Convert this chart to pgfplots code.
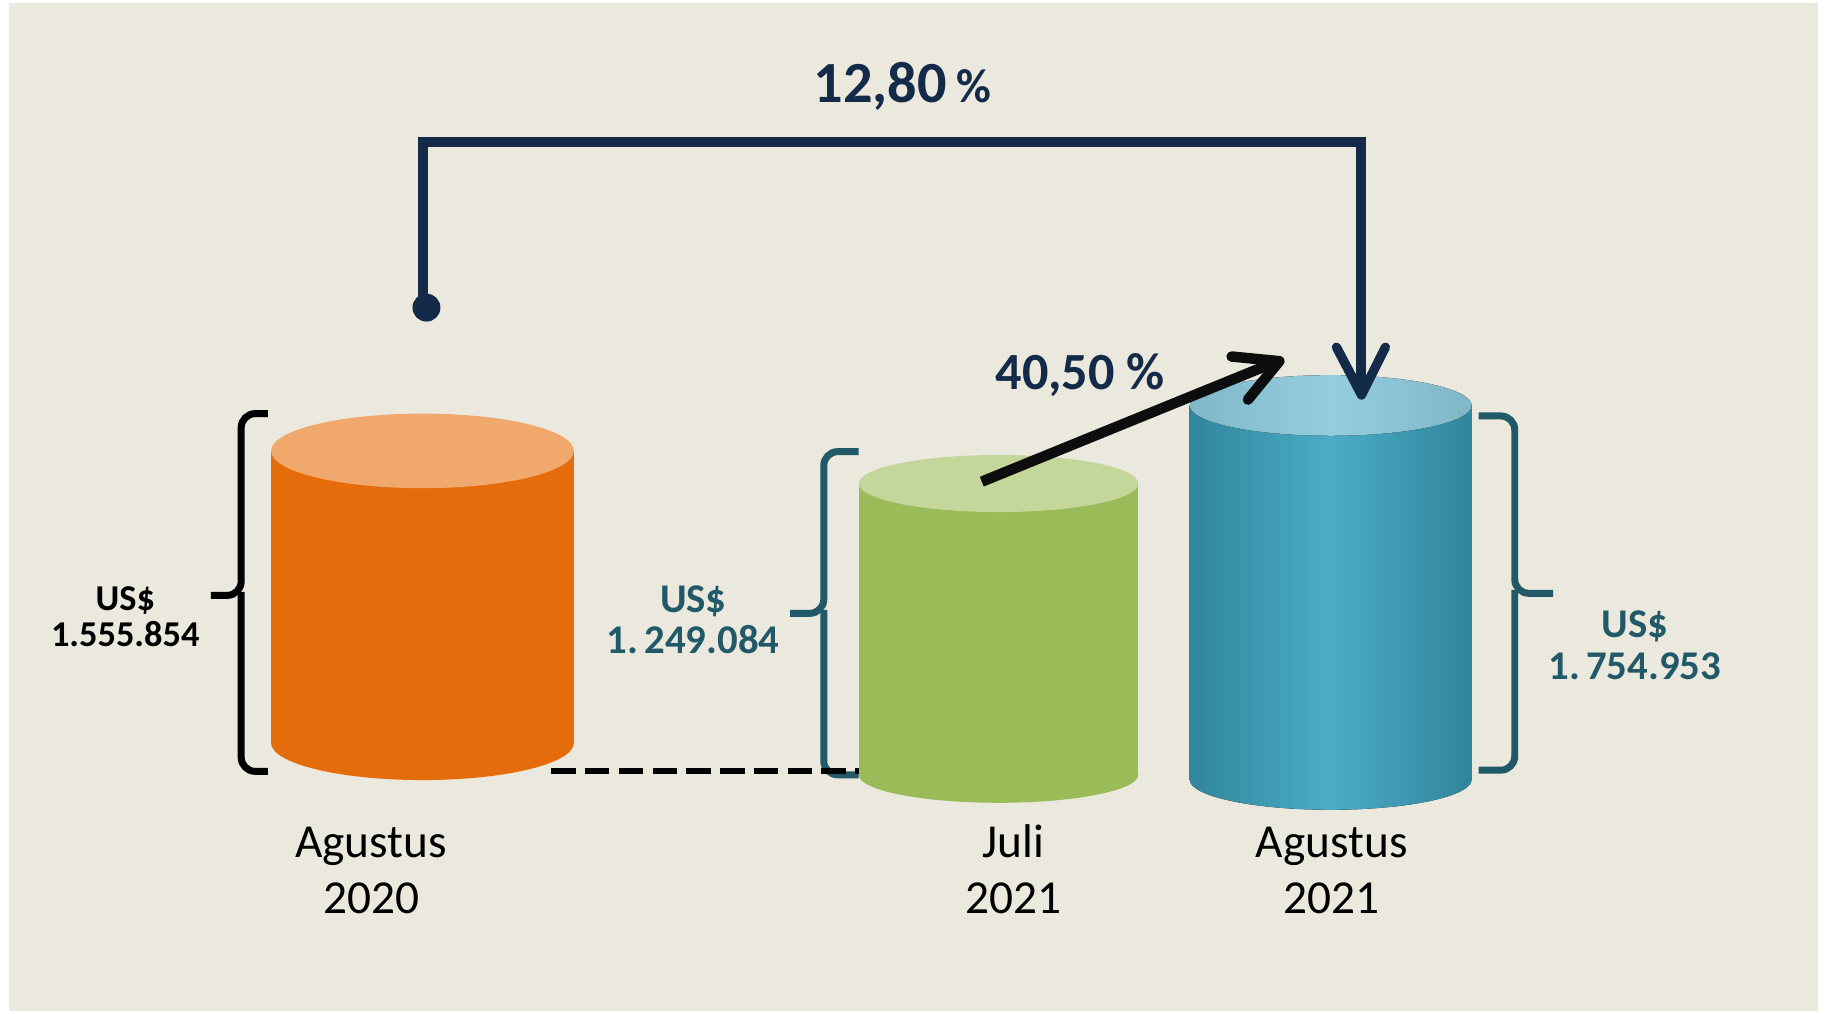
\documentclass[border=0pt]{standalone}
\usepackage{pgfplots}
\pgfplotsset{compat=1.18}
\usepackage{fontspec}
\setmainfont{Carlito}
\definecolor{bg}{HTML}{EBE8DE}
\definecolor{navy}{HTML}{132A48}
\definecolor{tealc}{HTML}{215968}
\definecolor{orS}{HTML}{E46C0A}
\definecolor{orT}{HTML}{F0A86C}
\definecolor{grS}{HTML}{9BBB59}
\definecolor{grT}{HTML}{C4D79B}
\definecolor{blD}{HTML}{31859C}
\definecolor{blL}{HTML}{4BACC6}
\definecolor{btD}{HTML}{80B7C8}
\definecolor{btL}{HTML}{94CEDE}
\begin{document}
\begin{tikzpicture}
\begin{axis}[scale only axis, width=784pt, height=435pt,
  xmin=0, xmax=1568, ymin=0, ymax=870, hide axis, clip=false]
% background
\addplot[fill=white, draw=none] coordinates {(0,0) (1568,0) (1568,870) (0,870)} -- cycle;
\addplot[fill=bg, draw=none] coordinates {(8,2) (1560,2) (1560,867) (8,867)} -- cycle;
% brackets
\draw[line width=3pt, rounded corners=6pt] (axis cs:230,515) -- (axis cs:207,515) -- (axis cs:207,359) -- (axis cs:181,359);
\draw[line width=3pt, rounded corners=6pt] (axis cs:207,362) -- (axis cs:207,208) -- (axis cs:230,208);
\draw[tealc, line width=3pt, rounded corners=6pt] (axis cs:737,482.4) -- (axis cs:707,482.4) -- (axis cs:707,343.6) -- (axis cs:678,343.6);
\draw[tealc, line width=3pt, rounded corners=6pt] (axis cs:707,346.6) -- (axis cs:707,205) -- (axis cs:737,205);
\draw[tealc, line width=3pt, rounded corners=6pt] (axis cs:1269,513) -- (axis cs:1300,513) -- (axis cs:1300,360.8) -- (axis cs:1333,360.8);
\draw[tealc, line width=3pt, rounded corners=6pt] (axis cs:1300,363.8) -- (axis cs:1300,209) -- (axis cs:1269,209);
% dashed base line
\addplot[black, line width=2.5pt, dash pattern=on 10.5pt off 4pt] coordinates {(473,208) (737,208)};
% orange cylinder
\fill[orS] (axis cs:362.6,232.5) ellipse[x radius=130, y radius=32];
\addplot[fill=orS, draw=none] coordinates {(232.6,232.5) (492.6,232.5) (492.6,483) (232.6,483)} -- cycle;
\fill[orT] (axis cs:362.6,483) ellipse[x radius=130, y radius=32];
% green cylinder
\fill[grS] (axis cs:857,205) ellipse[x radius=120, y radius=24];
\addplot[fill=grS, draw=none] coordinates {(737,205) (977,205) (977,455) (737,455)} -- cycle;
\fill[grT] (axis cs:857,455) ellipse[x radius=120, y radius=24.5];
% blue cylinder
\fill[left color=blD, right color=blD, middle color=blL] (axis cs:1142,201) ellipse[x radius=121, y radius=26];
\fill[left color=blD, right color=blD, middle color=blL] (axis cs:1021,201) rectangle (axis cs:1263,522);
\fill[left color=btD, right color=btD, middle color=btL] (axis cs:1142,522) ellipse[x radius=121, y radius=26];
% navy connector 12,80 %
\fill[navy] (axis cs:366,606) circle[radius=12];
\draw[navy, line width=4pt, line join=miter] (axis cs:363,606) -- (axis cs:363,748) -- (axis cs:1168,748) -- (axis cs:1168,536);
\draw[navy, line width=4pt, line cap=round, line join=round] (axis cs:1147,572) -- (axis cs:1168.5,531) -- (axis cs:1189,572);
% black arrow 40,50 %
\draw[black!95, line width=4.5pt] (axis cs:842.6,456.6) -- (axis cs:1094,559);
\draw[black!95, line width=4.5pt, line cap=round, line join=round] (axis cs:1057,564) -- (axis cs:1098,560) -- (axis cs:1071,527);
% percentage labels
\node[anchor=base, inner sep=0, text=navy] at (axis cs:774.5,782) {\bfseries\fontsize{25}{30}\selectfont 12,80\,{\fontsize{20.5}{24}\selectfont\%}};
\node[anchor=base, inner sep=0, text=navy] at (axis cs:927,535.3) {\bfseries\fontsize{22.4}{26}\selectfont 40,50 \%};
% value labels
\node[anchor=base, inner sep=0] at (axis cs:107.5,346) {\bfseries\fontsize{15.6}{18}\selectfont US\$};
\node[anchor=base, inner sep=0] at (axis cs:107.5,315) {\bfseries\fontsize{15.6}{18}\selectfont 1.555.854};
\node[anchor=base, inner sep=0, text=tealc] at (axis cs:595,344.2) {\bfseries\fontsize{17.5}{20}\selectfont US\$};
\node[anchor=base, inner sep=0, text=tealc] at (axis cs:595,309.5) {\bfseries\fontsize{17.5}{20}\selectfont 1.\hspace{0.15em}249.084};
\node[anchor=base, inner sep=0, text=tealc] at (axis cs:1403,322.8) {\bfseries\fontsize{17.5}{20}\selectfont US\$};
\node[anchor=base, inner sep=0, text=tealc] at (axis cs:1403,287) {\bfseries\fontsize{17.5}{20}\selectfont 1.\hspace{0.15em}754.953};
% category labels
\node[anchor=base, inner sep=0] at (axis cs:318.5,134) {\fontsize{20.3}{24}\selectfont Agustus};
\node[anchor=base, inner sep=0] at (axis cs:319,85.6) {\fontsize{20.3}{24}\selectfont 2020};
\node[anchor=base, inner sep=0] at (axis cs:869.6,134) {\fontsize{20.3}{24}\selectfont Juli};
\node[anchor=base, inner sep=0] at (axis cs:870,85.6) {\fontsize{20.3}{24}\selectfont 2021};
\node[anchor=base, inner sep=0] at (axis cs:1143,134) {\fontsize{20.3}{24}\selectfont Agustus};
\node[anchor=base, inner sep=0] at (axis cs:1143,85.6) {\fontsize{20.3}{24}\selectfont 2021};
\end{axis}
\end{tikzpicture}
\end{document}
